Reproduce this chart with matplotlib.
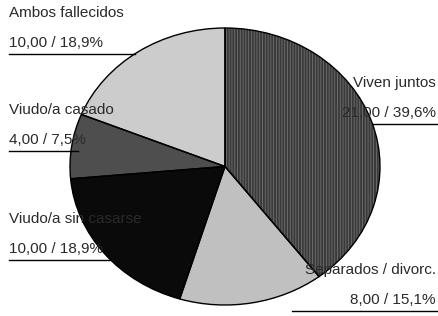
import matplotlib.pyplot as plt

# Datos del gráfico de sectores
categorias = ['Viven juntos', 'Separados / divorc.', 'Viudo/a sin casarse',
              'Viudo/a casado', 'Ambos fallecidos']
frecuencias = [21.00, 8.00, 10.00, 4.00, 10.00]
porcentajes = [39.6, 15.1, 18.9, 7.5, 18.9]
colores = ['#3a3a3a', '#c0c0c0', '#0a0a0a', '#4e4e4e', '#cccccc']

plt.rcParams['font.family'] = ['Liberation Sans', 'DejaVu Sans']
plt.rcParams['hatch.linewidth'] = 0.6

W, H = 439, 316
fig = plt.figure(figsize=(W / 100, H / 100), dpi=100)

# Ejes para la torta (elíptica, aspecto libre)
ax = fig.add_axes([70 / W, (H - 305) / H, 310 / W, 277 / H])
wedges, _ = ax.pie(frecuencias, colors=colores, startangle=90, counterclock=False,
                   radius=1, wedgeprops=dict(linewidth=0))
wedges[0].set_hatch('||||||')
wedges[0].set_edgecolor('#707070')
# Contorno negro por encima
ax.pie(frecuencias, colors=['none'] * 5, startangle=90, counterclock=False, radius=1,
       wedgeprops=dict(linewidth=1.0, edgecolor='black', fill=False))
ax.set_aspect('auto')
ax.set_xlim(-1, 1)
ax.set_ylim(-1, 1)
ax.axis('off')

# Capa de etiquetas en coordenadas de píxel
lab = fig.add_axes([0, 0, 1, 1], facecolor='none')
lab.set_xlim(0, W)
lab.set_ylim(H, 0)
lab.axis('off')

def etiqueta(i, x, y, ha, x0, x1):
    texto = f"{frecuencias[i]:.2f}".replace('.', ',') + f" / {porcentajes[i]:.1f}%".replace('.', ',')
    lab.text(x, y, categorias[i], ha=ha, va='center', fontsize=11, color='#2a2a2a')
    lab.text(x, y + 30, texto, ha=ha, va='center', fontsize=11, color='#2a2a2a')
    lab.plot([x0, x1], [y + 41, y + 41], color='black', lw=1)

etiqueta(4, 9, 13, 'left', 9, 135)
etiqueta(3, 9, 110, 'left', 9, 78)
etiqueta(2, 9, 219, 'left', 9, 110)
etiqueta(0, 436, 83, 'right', 373, 437)
etiqueta(1, 436, 270, 'right', 292, 437)

fig.savefig('out.png', dpi=100)
